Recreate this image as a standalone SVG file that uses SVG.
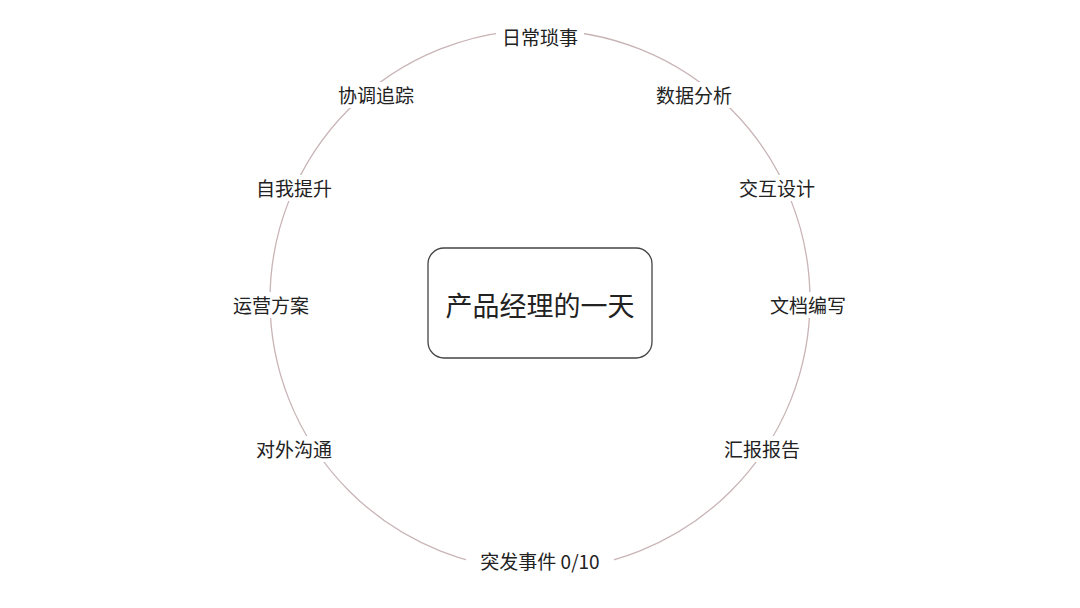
<svg xmlns="http://www.w3.org/2000/svg" width="1080" height="608" viewBox="0 0 1080 608">
<style>
.lbl{font-family:"Noto Sans CJK SC","Noto Sans",sans-serif;font-size:19px;fill:#222;text-anchor:middle;dominant-baseline:central}
.bg{fill:#fff}
.title{font-family:"Noto Sans CJK SC","Noto Sans",sans-serif;font-size:27px;fill:#222;text-anchor:middle;dominant-baseline:central}
</style>
<rect width="1080" height="608" fill="#fff"/>
<g id="connectors">
<circle cx="540" cy="300" r="270" fill="none" stroke="#c9b4b6" stroke-width="1.3"/>
</g>
<g id="center">
<rect x="428" y="248" width="224" height="110" rx="16" fill="#fff" stroke="#444" stroke-width="1.3"/>
<text class="title" x="540" y="304">产品经理的一天</text>
</g>
<g id="n1"><rect class="bg" x="496" y="24" width="88" height="26"/><text class="lbl" x="540" y="36">日常琐事</text></g>
<g id="n2"><rect class="bg" x="650" y="82" width="88" height="26"/><text class="lbl" x="694" y="94">数据分析</text></g>
<g id="n3"><rect class="bg" x="733" y="175" width="88" height="26"/><text class="lbl" x="777" y="187">交互设计</text></g>
<g id="n4"><rect class="bg" x="764" y="292" width="88" height="26"/><text class="lbl" x="808" y="304">文档编写</text></g>
<g id="n5"><rect class="bg" x="718" y="436" width="88" height="26"/><text class="lbl" x="762" y="448">汇报报告</text></g>
<g id="n6"><rect class="bg" x="466" y="547" width="148" height="26"/><text class="lbl" x="540" y="560">突发事件 0/10</text></g>
<g id="n7"><rect class="bg" x="250" y="436" width="88" height="26"/><text class="lbl" x="294" y="448">对外沟通</text></g>
<g id="n8"><rect class="bg" x="227" y="292" width="88" height="26"/><text class="lbl" x="271" y="304">运营方案</text></g>
<g id="n9"><rect class="bg" x="250" y="175" width="88" height="26"/><text class="lbl" x="294" y="187">自我提升</text></g>
<g id="n10"><rect class="bg" x="332" y="82" width="88" height="26"/><text class="lbl" x="376" y="94">协调追踪</text></g>
</svg>
